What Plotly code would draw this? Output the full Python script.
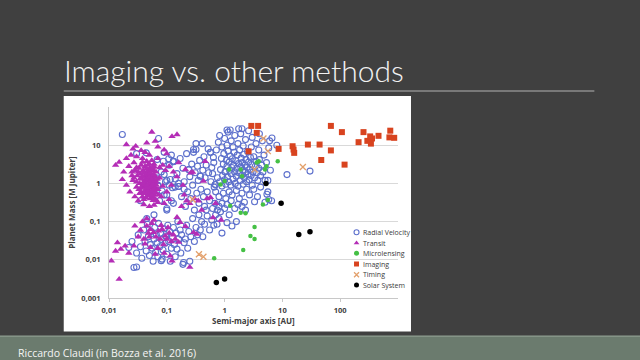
import plotly.graph_objects as go

# ---------------- data ----------------
rv_a = [0.82,0.85,0.88,0.9,0.92,0.95,0.97,1.0,1.02,1.05,1.08,1.1,1.12,1.15,1.18,1.2,1.22,1.25,1.28,1.3,
        1.33,1.36,1.4,1.43,1.46,1.5,1.53,1.56,1.6,1.63,1.66,1.7,1.74,1.78,1.82,1.86,1.9,1.94,1.98,2.02,
        2.06,2.1,2.15,2.2,2.25,2.3,2.35,2.4,2.45,2.5,2.55,2.6,2.66,2.72,2.8,2.88,2.95,3.0,3.1,3.2,
        3.3,3.4,3.5,3.6,3.75,3.9,4.0,4.2,4.4,4.6,
        0.62,0.65,0.7,0.72,0.75,0.78,0.8,0.9,0.95,1.0,1.05,1.1,1.2,1.3,1.35,1.4,1.5,1.6,1.7,1.8,
        1.9,2.0,2.1,2.3,2.4,2.6,2.7,2.9,3.0,3.2,3.5,3.7,3.9,4.2,4.5,4.8,5.0,5.3,5.6,5.8,
        6.2,6.5,1.15,1.75,2.2,0.68,3.3,5.0,6.0,4.0,1.1,1.25,2.0,6.6,8.0,12,30,5.4,5.8,5.6,
        0.09,0.1,0.11,0.12,0.13,0.14,0.15,0.16,0.17,0.18,0.19,0.2,0.21,0.22,0.23,0.24,0.25,0.26,0.27,0.28,
        0.29,0.3,0.31,0.32,0.33,0.34,0.35,0.36,0.37,0.38,0.39,0.41,0.42,0.43,0.44,0.45,0.46,0.48,0.5,0.52,
        0.53,0.55,0.57,0.58,0.6,0.62,0.64,0.66,0.69,0.7,0.75,0.8,0.85,0.9,1.0,1.1,1.2,1.3,1.5,1.7,
        2.0,2.3,0.12,0.07,0.08,0.065,0.09,0.06,0.075,0.1,0.82,0.32,0.29,0.57,0.13,0.24,0.38,0.69,0.16,
        0.022,0.025,0.027,0.03,0.032,0.035,0.037,0.04,0.042,0.044,0.046,0.048,0.05,0.052,0.054,0.056,0.058,0.06,0.062,0.064,
        0.066,0.068,0.07,0.072,0.075,0.078,0.08,0.083,0.086,0.09,0.093,0.096,0.1,0.104,0.108,0.112,0.115,0.12,0.125,0.13,
        0.135,0.14,0.145,0.15,0.155,0.16,0.17,0.175,0.18,0.19,0.2,0.21,0.22,0.23,0.24,0.25,0.26,0.28,0.3,0.32,
        0.34,0.36,0.38,0.4,0.42,0.45,0.48,0.5,0.55,0.6,0.65,0.74,0.8,0.9,1.1,1.34,1.6,0.195,0.03,0.08,
        0.06,0.045,0.1,0.13,
        0.017,0.072,0.044,0.068,0.087,0.108,0.13,0.09,0.115,0.071,0.083,0.125,0.1,0.11,0.095,0.14,0.16,0.2,0.035,0.03]
rv_m = [1.1,2.3,4.5,0.85,1.6,3.2,6.0,1.25,2.0,0.95,4.0,2.8,1.5,7.0,1.1,3.6,2.2,5.2,0.9,1.8,
        2.6,4.4,1.3,3.0,6.5,2.0,1.0,3.9,1.55,2.5,5.5,0.85,3.3,1.9,7.5,1.2,2.7,4.6,1.6,3.5,
        2.2,0.95,5.8,1.4,3.0,2.0,4.2,1.1,2.6,6.8,1.7,3.6,1.25,2.3,4.8,1.6,3.1,0.9,2.0,5.0,
        1.4,2.8,3.8,1.9,1.2,2.5,4.2,1.6,3.0,2.0,
        1.8,3.5,0.6,7.5,1.4,12,0.45,9,0.55,15,0.4,10,0.6,13,0.5,9,18,0.65,11,0.4,
        20,0.55,9.5,14,0.7,24,0.5,9,16,0.7,11,0.45,7.5,0.8,13,5.5,1.2,3.5,0.6,8.5,
        2.2,0.35,22,27,0.32,0.3,0.33,0.32,13,20,25,25,27,15.5,10,1.7,2.1,0.52,0.38,1.2,
        0.5,1.2,3.0,0.35,3.8,0.8,1.8,0.83,4.5,0.45,2.5,1.1,0.25,6.0,0.6,2.3,1.5,0.4,3.2,0.9,
        7.7,0.2,1.9,11,0.55,2.8,1.2,0.3,4.0,1.55,0.7,11,2.2,0.45,5.0,0.25,1.4,3.0,0.6,8,
        1.9,0.35,6.5,1.1,2.6,0.22,4.8,0.8,0.94,0.15,0.2,0.25,0.18,0.3,0.22,0.28,0.15,0.35,0.22,0.28,
        0.25,0.2,5.5,0.9,2.0,1.4,6.5,0.6,0.35,0.22,18,7.7,6.5,6.5,3.8,2.3,1.55,0.94,0.83,
        0.021,0.03,0.0063,0.015,0.045,0.022,0.011,0.06,0.03,0.017,0.085,0.04,0.013,0.025,0.055,0.02,0.0092,0.035,0.07,0.016,
        0.045,0.028,0.012,0.09,0.022,0.05,0.034,0.0104,0.018,0.065,0.027,0.042,0.014,0.08,0.03,0.055,0.0092,0.02,0.04,0.07,
        0.025,0.012,0.05,0.019,0.1,0.035,0.06,0.015,0.045,0.0076,0.028,0.035,0.08,0.02,0.055,0.0092,0.04,0.12,0.03,0.07,
        0.045,0.15,0.06,0.1,0.04,0.085,0.2,0.14,0.06,0.11,0.08,0.085,0.12,0.05,0.094,0.077,0.1,0.0085,0.0065,0.0095,
        0.15,0.12,0.2,0.3,
        19,15,6.3,4.2,3.8,4.4,3.7,1.7,1.27,0.85,0.63,0.77,0.5,0.9,1.1,1.3,1.0,0.7,0.35,6]

tr_a = [0.055,0.15,0.123,0.063,0.045,0.02,0.029,0.036,0.026,0.07,0.09,0.1,0.013,0.015,0.017,0.018,0.02,0.022,0.024,0.025,
        0.027,0.03,0.033,0.038,0.042,0.05,0.055,0.06,0.07,0.075,0.085,0.095,0.11,0.13,0.16,0.21,0.26,0.02,0.023,0.026,
        0.028,0.03,0.032,0.034,0.07,0.08,0.09,0.1,0.11,0.12,0.085,0.075,0.065,0.028,0.031,0.036,0.045,0.05,0.06,0.04,
        0.034,0.035,0.036,0.037,0.038,0.039,0.04,0.041,0.042,0.043,0.044,0.045,0.045,0.046,0.047,0.048,0.048,0.049,0.05,0.05,
        0.051,0.052,0.052,0.053,0.054,0.055,0.055,0.056,0.057,0.058,0.059,0.06,0.06,0.061,0.062,0.063,0.064,0.065,0.04,0.043,
        0.046,0.049,0.053,0.057,0.038,0.042,0.047,0.054,0.044,0.058,
        0.036,0.037,0.039,0.04,0.041,0.042,0.044,0.045,0.046,0.047,0.048,0.049,0.05,0.051,0.052,0.053,0.054,0.055,0.056,0.057,
        0.058,0.06,0.061,0.062,0.064,0.066,0.068,0.07,0.072,0.03,0.032,0.033,0.035,0.025,0.027,0.03,0.044,0.05,0.038,0.06,
        0.46,0.28,0.43,0.5,0.57,0.63,0.87,0.35,0.3,0.25,0.2,0.18,0.4,0.7,0.15,0.17,0.21,0.29,0.33,0.14,
        0.16,0.25,0.15,0.19,0.22,
        0.011,0.015,0.013,0.014,0.016,0.019,0.022,0.027,0.028,0.032,0.035,0.038,0.04,0.042,0.045,0.048,0.052,0.052,0.055,0.059,
        0.063,0.065,0.072,0.077,0.08,0.083,0.088,0.094,0.1,0.105,0.11,0.115,0.123,0.12,0.13,0.045,0.06,0.07,0.09,0.05]
tr_m = [22,19,17,12.7,11.5,10.4,9.4,7.3,8,9,7.5,6,3.0,3.6,1.27,2.0,4.5,2.8,5.5,1.6,
        3.5,5.0,2.5,4.5,6.5,5.5,4.0,3.2,4.5,2.6,3.0,2.2,2.8,2.0,3.5,2.3,1.9,0.9,0.6,1.2,
        0.45,0.8,0.35,0.55,0.32,0.45,0.3,0.6,0.38,0.9,0.85,1.4,2.0,2.2,1.6,3.0,3.8,0.25,0.27,0.28,
        1.0,1.8,0.6,1.3,0.45,2.2,0.8,1.1,1.6,0.55,0.95,1.4,0.7,2.0,0.5,1.2,0.85,1.7,0.62,1.0,
        2.5,0.4,1.35,0.75,1.05,0.55,1.6,0.9,0.45,1.25,0.68,2.1,1.0,0.5,0.8,1.5,0.38,1.1,0.38,0.65,
        1.15,0.48,0.58,0.78,0.9,2.8,3.0,2.2,0.42,0.36,
        0.75,1.5,1.05,1.9,0.58,1.25,0.72,1.75,0.9,1.3,0.62,2.2,1.45,0.78,1.9,1.15,0.5,1.3,0.66,2.6,
        0.95,1.7,0.72,1.2,0.58,0.9,1.3,0.7,0.5,1.1,2.0,0.7,1.35,2.0,1.4,2.6,2.4,3.2,3.6,2.8,
        3.8,1.97,1.15,0.4,0.43,0.127,0.11,0.35,0.4,0.3,0.5,0.25,0.2,0.3,0.13,0.096,0.075,0.052,0.047,0.035,
        0.029,0.0064,1.5,0.9,0.35,
        0.0094,0.0031,0.017,0.028,0.019,0.023,0.015,0.023,0.077,0.04,0.06,0.1,0.035,0.026,0.077,0.05,0.063,0.021,0.09,0.052,
        0.014,0.04,0.057,0.035,0.08,0.063,0.025,0.042,0.035,0.07,0.05,0.0126,0.0094,0.03,0.045,0.12,0.11,0.02,0.015,0.04]

ml_a = [0.66,0.85,1.0,1.2,1.25,1.9,1.9,2.0,2.1,2.3,2.8,3.3,3.3,3.6,3.9,4.6,5.0,5.3,5.6,8.3]
ml_m = [0.011,0.94,1.15,2.3,0.26,0.17,2.3,1.55,0.018,0.165,0.042,0.035,0.072,3.5,3.8,0.28,2.3,2.8,0.37,3.8]

im_a = [2.6,2.9,3.6,3.8,8.6,15,15.6,16,27.6,44,47,69,69,107,119,208,253,295,330,340,355,460,735,710,860]
im_m = [6.9,32,21,32,8,9.4,7.7,6.3,10.4,10.4,4.1,32,7.3,22,3.1,12,22,13,17,11,15,17.6,24,16,15.6]

tm_a = [0.28,0.36,0.43,3.3,4.7,5.6,22.6]
tm_m = [0.38,0.014,0.012,2.3,15,7,2.7]

ss_a = [0.72,1.0,5.2,9.5,19.2,30]
ss_m = [0.00256,0.00315,1.0,0.3,0.046,0.054]

x_tickvals = [0.01, 0.1, 1, 10, 100]
x_ticktext = ["0,01", "0,1", "1", "10", "100"]
y_tickvals = [0.001, 0.01, 0.1, 1, 10]
y_ticktext = ["0,001", "0,01", "0,1", "1", "10"]

legend_names = ["Radial Velocity", "Transit", "Microlensing", "Imaging", "Timing", "Solar System"]

# ---------------- layout helpers (pixel -> paper) ----------------
W, H = 640, 360
L, R, T, B = 109.3, 398.5, 107.0, 298.0
def px(x):
    return (x - L) / (R - L)
def py(y):
    return (B - y) / (B - T)

RV_C, TR_C, ML_C, IM_C, TM_C, SS_C = "#5d70cc", "#b42db6", "#45c045", "#d8431f", "#e3a06b", "#000000"

fig = go.Figure()
styles = [
    dict(symbol="circle-open", size=6, color=RV_C, line=dict(width=1.1, color=RV_C)),
    dict(symbol="triangle-up", size=6.5, color=TR_C),
    dict(symbol="circle", size=4.5, color=ML_C),
    dict(symbol="square", size=6, color=IM_C),
    dict(symbol="x-thin-open", size=6, color=TM_C, line=dict(width=1.3, color=TM_C)),
    dict(symbol="circle", size=5.5, color=SS_C),
]
series = [(rv_a, rv_m), (tr_a, tr_m), (ml_a, ml_m), (im_a, im_m), (tm_a, tm_m), (ss_a, ss_m)]
for (xa, ym), st, nm in zip(series, styles, legend_names):
    fig.add_trace(go.Scatter(x=xa, y=ym, mode="markers", name=nm, marker=st,
                             showlegend=False, hoverinfo="skip"))

# manual compact legend
leg_x = px(357)
leg_rows = [232.3, 243.0, 253.3, 264.0, 274.7, 285.0]
for st, nm, ry in zip(styles, legend_names, leg_rows):
    s = dict(st)
    s["size"] = 5
    fig.add_trace(go.Scatter(x=[leg_x], y=[py(ry)], xaxis="x2", yaxis="y2", mode="markers",
                             marker=s, showlegend=False, hoverinfo="skip"))
    fig.add_annotation(x=px(361), y=py(ry), xref="paper", yref="paper", text=nm,
                       showarrow=False, xanchor="left", yanchor="middle",
                       font=dict(family="Open Sans", size=7, color="#3a3a3a"))

shapes = [
    dict(type="rect", xref="paper", yref="paper", x0=px(64), x1=px(411.5), y0=py(331.5), y1=py(96),
         fillcolor="white", line=dict(width=0), layer="below"),
    dict(type="line", xref="paper", yref="paper", x0=px(64), x1=px(595), y0=py(91), y1=py(91),
         line=dict(color="#8c8c8c", width=1.3)),
    dict(type="rect", xref="paper", yref="paper", x0=px(-5), x1=px(650), y0=py(370), y1=py(336),
         fillcolor="#6b7b6e", line=dict(width=0)),
    dict(type="line", xref="paper", yref="paper", x0=px(-5), x1=px(650), y0=py(336.2), y1=py(336.2),
         line=dict(color="#8e9d90", width=1.2)),
]

fig.add_annotation(x=px(62), y=py(70), xref="paper", yref="paper", text="Imaging vs. other methods",
                   showarrow=False, xanchor="left", yanchor="middle",
                   font=dict(family="Lato", size=30, color="#f2f2f2", weight=300))
fig.add_annotation(x=px(16), y=py(352.5), xref="paper", yref="paper",
                   text="Riccardo Claudi (in Bozza et al. 2016)",
                   showarrow=False, xanchor="left", yanchor="middle",
                   font=dict(family="Open Sans", size=10.5, color="#f4f4f4"))
fig.add_annotation(x=px((L + R) / 2), y=py(320), xref="paper", yref="paper", text="Semi-major axis [AU]",
                   showarrow=False, xanchor="center", yanchor="middle",
                   font=dict(family="Open Sans", size=8, color="#404040", weight="bold"))
fig.add_annotation(x=px(72), y=py(202), xref="paper", yref="paper", text="Planet Mass [M Jupiter]",
                   showarrow=False, xanchor="center", yanchor="middle", textangle=-90,
                   font=dict(family="Open Sans", size=8, color="#404040", weight="bold"))

tickfont = dict(family="Open Sans", size=7.5, color="#404040", weight="bold")
fig.update_layout(
    width=W, height=H, autosize=False,
    margin=dict(l=L, r=W - R, t=T, b=H - B, pad=0),
    paper_bgcolor="#404040", plot_bgcolor="rgba(0,0,0,0)",
    shapes=shapes, showlegend=False,
    xaxis=dict(type="log", range=[-2, 3], tickvals=x_tickvals, ticktext=x_ticktext,
               showgrid=False, zeroline=False, showline=True, linecolor="#c8c8c8", linewidth=1,
               ticks="outside", ticklen=3, tickcolor="#c8c8c8", tickfont=tickfont, ticklabelstandoff=2),
    yaxis=dict(type="log", range=[-3, 2], tickvals=y_tickvals, ticktext=y_ticktext,
               showgrid=True, gridcolor="#d9d9d9", gridwidth=1, zeroline=False,
               showline=True, linecolor="#c8c8c8", linewidth=1, ticks="", tickfont=tickfont,
               ticklabelstandoff=6),
    xaxis2=dict(overlaying="x", range=[0, 1], visible=False),
    yaxis2=dict(overlaying="y", range=[0, 1], visible=False),
)
fig.write_html("out.html")
